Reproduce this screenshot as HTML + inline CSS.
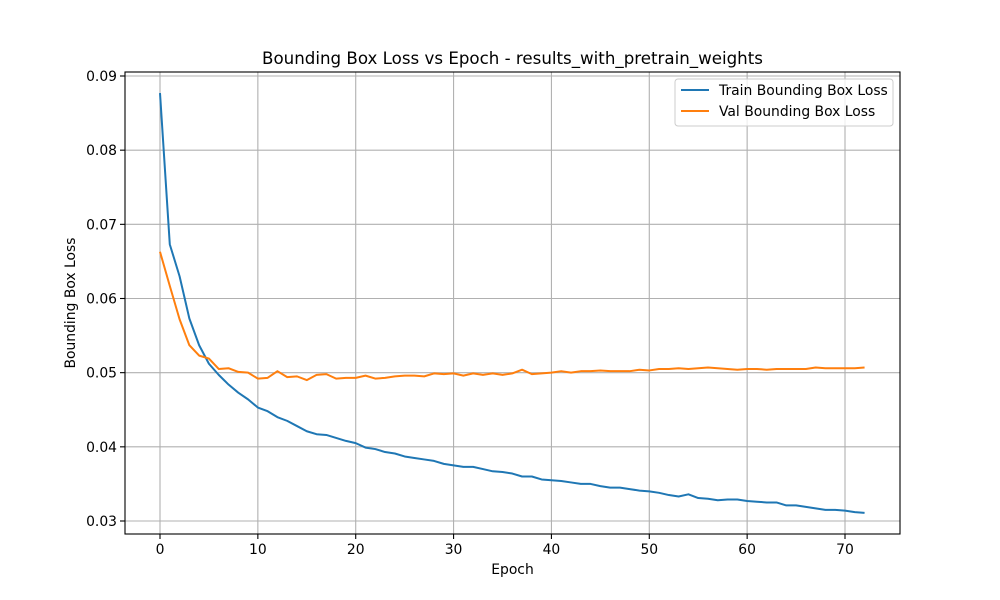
<!DOCTYPE html>
<html><head><meta charset="utf-8"><style>
body{margin:0;background:#fff}
svg{display:block;font-family:"DejaVu Sans","Liberation Sans",sans-serif}
</style></head><body>
<svg id="chart" width="1000" height="600" viewBox="0 0 1000 600">
<rect width="1000" height="600" fill="#fff"/>
<g id="grid"></g>
<g id="series"></g>
<rect x="125" y="72" width="775" height="462" fill="none" stroke="#000" stroke-width="1.1"/>
<g id="ticks" font-size="13.9" fill="#000"></g>
<text x="512.5" y="64" text-anchor="middle" font-size="16.67">Bounding Box Loss vs Epoch - results_with_pretrain_weights</text>
<text x="512.5" y="574" text-anchor="middle" font-size="13.9">Epoch</text>
<text transform="translate(75,303) rotate(-90)" text-anchor="middle" font-size="13.9">Bounding Box Loss</text>
<g>
<rect x="675" y="79" width="218" height="47" rx="3" fill="#fff" fill-opacity="0.8" stroke="#ccc"/>
<line x1="681" y1="90" x2="709" y2="90" stroke="#1f77b4" stroke-width="2"/>
<text x="719" y="95" font-size="13.9">Train Bounding Box Loss</text>
<line x1="681" y1="111" x2="709" y2="111" stroke="#ff7f0e" stroke-width="2"/>
<text x="719" y="116" font-size="13.9">Val Bounding Box Loss</text>
</g>
</svg>
<script>
const trainLoss=[0.0877,0.0673,0.063,0.0573,0.0537,0.0512,0.0497,0.0484,0.0473,0.0464,0.0453,0.0448,0.0440,0.0435,0.0428,0.0421,0.0417,0.0416,0.0412,0.0408,0.0405,0.0399,0.0397,0.0393,0.0391,0.0387,0.0385,0.0383,0.0381,0.0377,0.0375,0.0373,0.0373,0.0370,0.0367,0.0366,0.0364,0.0360,0.0360,0.0356,0.0355,0.0354,0.0352,0.0350,0.0350,0.0347,0.0345,0.0345,0.0343,0.0341,0.0340,0.0338,0.0335,0.0333,0.0336,0.0331,0.0330,0.0328,0.0329,0.0329,0.0327,0.0326,0.0325,0.0325,0.0321,0.0321,0.0319,0.0317,0.0315,0.0315,0.0314,0.0312,0.0311];
const valLoss=[0.0663,0.0617,0.0572,0.0537,0.0523,0.0519,0.0505,0.0506,0.0501,0.0500,0.0492,0.0493,0.0502,0.0494,0.0495,0.0490,0.0497,0.0498,0.0492,0.0493,0.0493,0.0496,0.0492,0.0493,0.0495,0.0496,0.0496,0.0495,0.0499,0.0498,0.0499,0.0496,0.0499,0.0497,0.0499,0.0497,0.0499,0.0504,0.0498,0.0499,0.0500,0.0502,0.0500,0.0502,0.0502,0.0503,0.0502,0.0502,0.0502,0.0504,0.0503,0.0505,0.0505,0.0506,0.0505,0.0506,0.0507,0.0506,0.0505,0.0504,0.0505,0.0505,0.0504,0.0505,0.0505,0.0505,0.0505,0.0507,0.0506,0.0506,0.0506,0.0506,0.0507];
const xTicks=[0,10,20,30,40,50,60,70];
const yTicks=[0.03,0.04,0.05,0.06,0.07,0.08,0.09];
const NS="http://www.w3.org/2000/svg";
function xs(v){return 160+(v-0)*(845-160)/70;}
function ys(v){return 76+(0.09-v)*(521-76)/0.06;}
function mk(tag,attrs,parent){const e=document.createElementNS(NS,tag);for(const k in attrs)e.setAttribute(k,attrs[k]);parent.appendChild(e);return e;}
const grid=document.getElementById('grid'),ticks=document.getElementById('ticks'),series=document.getElementById('series');
xTicks.forEach(t=>{const x=xs(t);
 const g=mk('line',{x1:x,x2:x,y1:72,y2:534,stroke:'#b0b0b0','stroke-width':1.1},grid);
 
 
 mk('line',{x1:x,x2:x,y1:534,y2:539,stroke:'#000','stroke-width':1.1},ticks);
 const tx=mk('text',{x:x,y:554,'text-anchor':'middle'},ticks);tx.textContent=t;
 
 
});
yTicks.forEach(t=>{const y=ys(t);
 const g=mk('line',{x1:125,x2:900,y1:y,y2:y,stroke:'#b0b0b0','stroke-width':1.1},grid);
 
 
 mk('line',{x1:120,x2:125,y1:y,y2:y,stroke:'#000','stroke-width':1.1},ticks);
 const tx=mk('text',{x:117,y:y+5,'text-anchor':'end'},ticks);tx.textContent=t.toFixed(2);
 
 
});
function line(data,color,name){
 const p=mk('polyline',{points:data.map((v,i)=>xs(i)+','+ys(v)).join(' '),fill:'none',stroke:color,'stroke-width':2,'stroke-linejoin':'round'},series);
 
 
}
line(trainLoss,'#1f77b4','train-loss-line');
line(valLoss,'#ff7f0e','val-loss-line');
</script>
</body></html>
